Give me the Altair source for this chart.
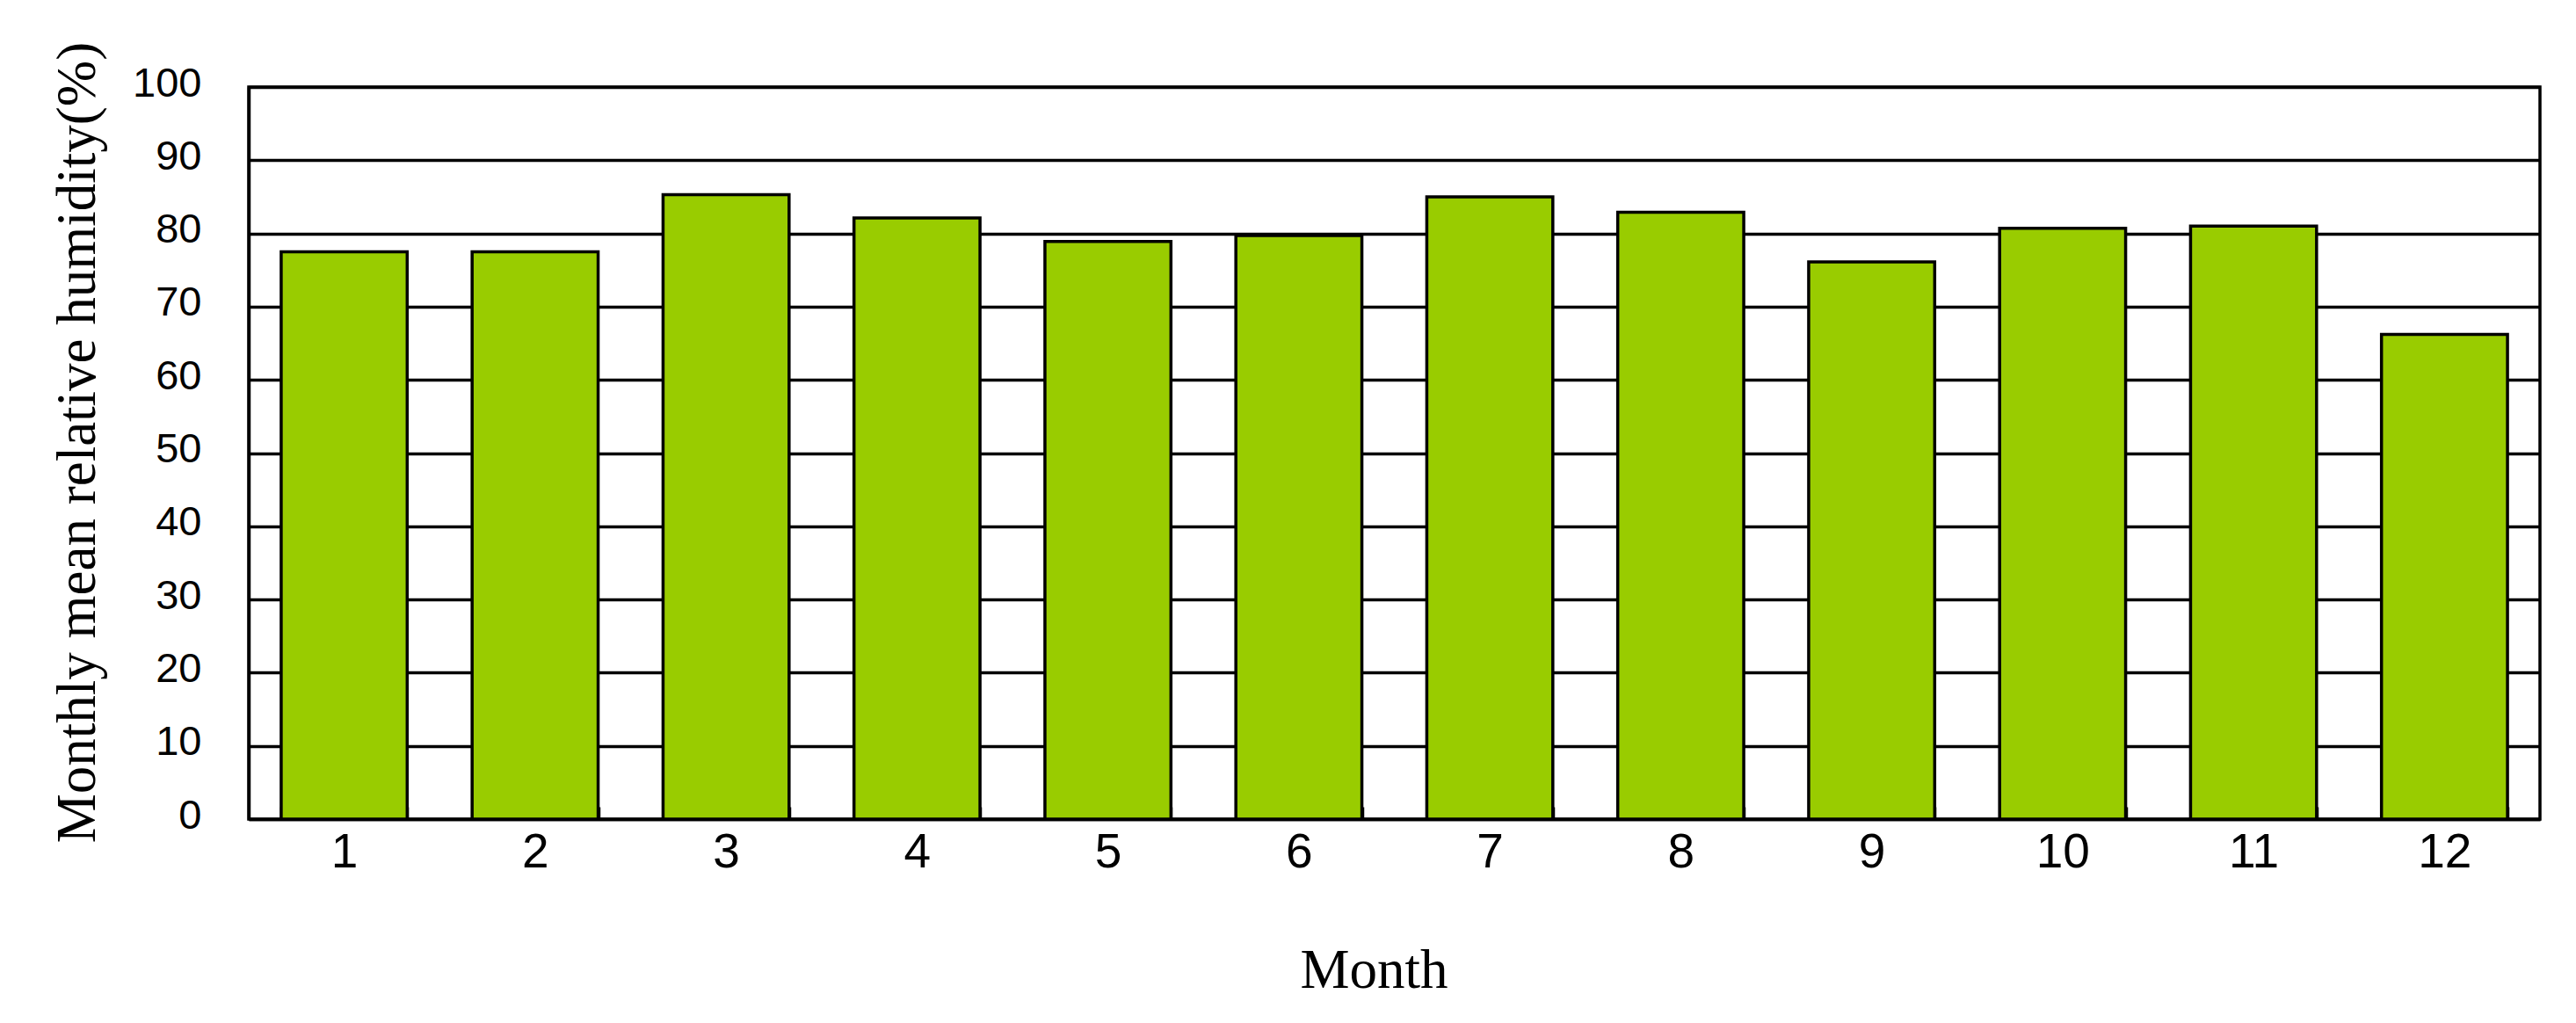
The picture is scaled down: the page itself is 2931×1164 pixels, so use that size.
import altair as alt
import pandas as pd

months = ["1", "2", "3", "4", "5", "6", "7", "8", "9", "10", "11", "12"]
humidity = [77.5, 77.5, 85.3, 82.1, 78.9, 79.7, 85.0, 82.9, 76.1, 80.7, 81.0, 66.2]
y_ticks = [0, 10, 20, 30, 40, 50, 60, 70, 80, 90, 100]

df = pd.DataFrame({"Month": months, "Humidity": humidity})

chart = alt.Chart(df).mark_bar(
    color="#99CC00", stroke="black", strokeWidth=3.5
).encode(
    x=alt.X(
        "Month:N",
        sort=months,
        scale=alt.Scale(paddingInner=0.34, paddingOuter=0.17),
        axis=alt.Axis(
            title="Month",
            labelAngle=0,
            labelFont="Liberation Sans",
            labelFontSize=55,
            labelColor="black",
            labelPadding=25,
            tickBand="extent",
            tickSize={"expr": "-14"},
            tickWidth=3.5,
            tickColor="black",
            domainColor="black",
            domainWidth=3.5,
            titleFont="Liberation Serif",
            titleFontSize=63,
            titleFontWeight="normal",
            titleColor="black",
            titleX=1280,
            titleY=191,
            titleAlign="center",
            titleBaseline="alphabetic",
        ),
    ),
    y=alt.Y(
        "Humidity:Q",
        scale=alt.Scale(domain=[0, 100], nice=False),
        axis=alt.Axis(
            values=y_ticks,
            title="Monthly mean relative humidity(%)",
            ticks=False,
            labelPadding=54,
            labelOffset=-4,
            labelFont="Liberation Sans",
            labelFontSize=47,
            labelColor="black",
            domainColor="black",
            domainWidth=3.5,
            grid=True,
            gridColor="black",
            gridWidth=3.5,
            gridOpacity=1,
            titleFont="Liberation Serif",
            titleFontSize=63,
            titleFontWeight="normal",
            titleColor="black",
            titleAngle=270,
            titleX=-176,
            titleY=404,
            titleAlign="center",
            titleBaseline="alphabetic",
        ),
    ),
).properties(
    width=2607,
    height=833,
    autosize=alt.AutoSizeParams(type="none"),
    padding={"left": 275, "top": 91, "right": 25, "bottom": 225},
).configure_view(
    stroke="black", strokeWidth=3.5
)

chart.save("out.html", embed_options={"renderer": "svg", "actions": False})
